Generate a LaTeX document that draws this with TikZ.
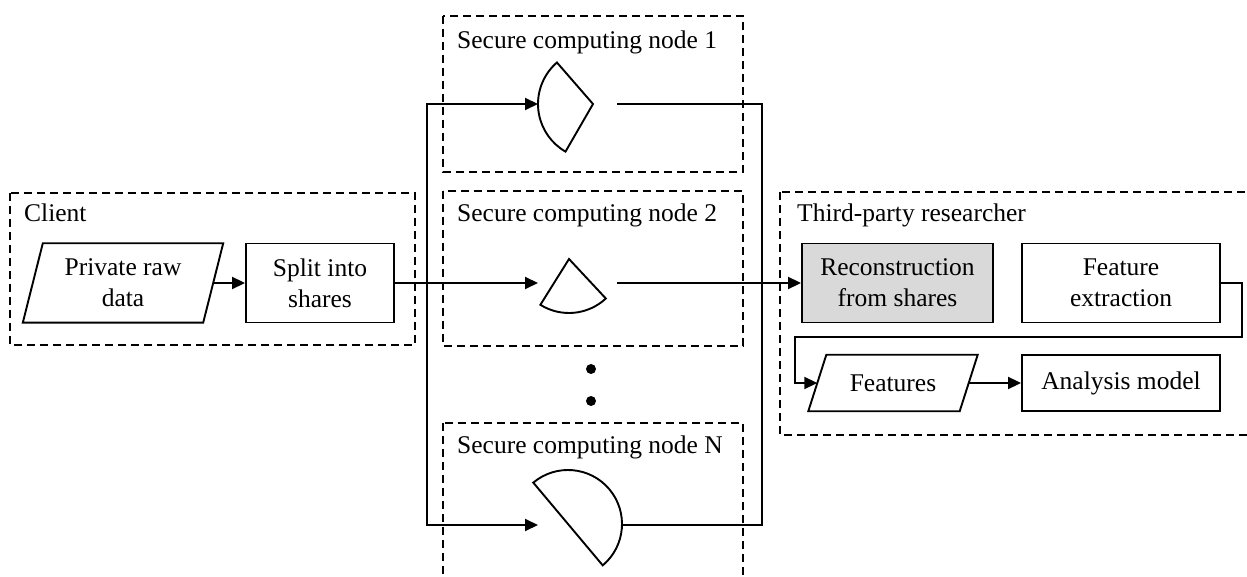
\documentclass[tikz,border=0pt]{standalone}
\usepackage{fontspec}
\setmainfont{Liberation Serif}
\usetikzlibrary{arrows.meta,calc}
\definecolor{shadefill}{gray}{0.85}
\tikzset{
  line/.style={line width=1.9pt, draw=black},
  group/.style={line width=1.8pt, dash pattern=on 8pt off 5pt},
  txt/.style={font=\fontsize{25.5}{31}\selectfont},
  box/.style={line, txt, rectangle, minimum height=79pt, inner sep=0pt, align=center},
  lowbox/.style={line, txt, rectangle, minimum height=56pt, inner sep=0pt, align=center},
  slantbox/.style={txt, rectangle, inner sep=0pt, align=center},
  grouplabel/.style={txt, anchor=base west, inner sep=0pt},
  arr/.style={-{Triangle[length=13pt,width=12pt]}},
  arrboth/.style={{Triangle[length=13pt,width=12pt]}-{Triangle[length=13pt,width=12pt]}},
}
\begin{document}
\begin{tikzpicture}[x=1pt,y=1pt]
\path[clip] (0,0) rectangle (1247,576);

% group frames
\draw[group] (10,383) rectangle (415,231);
\draw[group] (443,560) rectangle (743,404);
\draw[group] (443,385) rectangle (743,230);
\draw[group] (443,153) rectangle (743,-20);
\draw[group] (780,384) rectangle (1270,141);

\node[grouplabel] (lclient) at (24,354) {Client};
\node[grouplabel] (lnode1) at (457,527) {Secure computing node 1};
\node[grouplabel] (lnode2) at (457,354) {Secure computing node 2};
\node[grouplabel] (lnodeN) at (457,123) {Secure computing node N};
\node[grouplabel] (lthird) at (797,354) {Third-party researcher};

% client
\node[slantbox, minimum width=180pt, minimum height=79pt] (raw) at (123,293) {Private raw\\data};
\draw[line] ([xshift=-10pt]raw.south west) -- ([xshift=10pt]raw.north west)
  -- ([xshift=10pt]raw.north east) -- ([xshift=-10pt]raw.south east) -- cycle;
\node[box, minimum width=148pt] (split) at (320,293) {Split into\\shares};

% secure computing nodes
\coordinate (c1) at (593,472);
\coordinate (c2) at (569,317);
\coordinate (cN) at (568,52);
\draw[line] (c1) -- ++(131:55pt) arc[start angle=131, end angle=240, radius=55pt] -- cycle;
\draw[line] (c2) -- ++(238:54pt) arc[start angle=238, end angle=313, radius=54pt] -- cycle;
\draw[line] ($(cN)+(130:54pt)$) arc[start angle=130, end angle=-50, radius=54pt] -- cycle;

\fill (591,207) circle (5pt);
\fill (591,175) circle (5pt);

\coordinate (in1) at (538,472);
\coordinate (in2) at (538,293);
\coordinate (inN) at (538,51);
\coordinate (out1) at (617,472);
\coordinate (out2) at (617,293);
\coordinate (outN) at (622,51);
\coordinate (busL1) at (427,472);
\coordinate (busLN) at (427,51);
\coordinate (busR1) at (762,472);
\coordinate (busRN) at (762,51);

% third-party researcher
\node[box, fill=shadefill, minimum width=191pt] (rec) at (897.5,293) {Reconstruction\\from shares};
\node[box, minimum width=198pt] (fe) at (1121,293) {Feature\\extraction};
\node[slantbox, minimum width=151pt, minimum height=56pt] (feat) at (893,193) {Features};
\draw[line] ([xshift=-9pt]feat.south west) -- ([xshift=9pt]feat.north west)
  -- ([xshift=9pt]feat.north east) -- ([xshift=-9pt]feat.south east) -- cycle;
\node[lowbox, minimum width=198pt] (am) at (1121,193) {Analysis model};
\coordinate (k1) at (1242,239);
\coordinate (k2) at (795,239);

% connectors
\draw[line, arr] (raw) -- (split);
\draw[line, arr] (split.east) -- (in2);
\draw[line, arrboth] (in1) -- (busL1) -- (busLN) -- (inN);
\draw[line] (out1) -- (busR1) -- (busRN) -- (outN);
\draw[line, arr] (out2) -- (rec);
\draw[line, arr] (fe.east) -| (k1) -- (k2) |- (feat.west);
\draw[line, arr] (feat) -- (am);
\end{tikzpicture}
\end{document}
